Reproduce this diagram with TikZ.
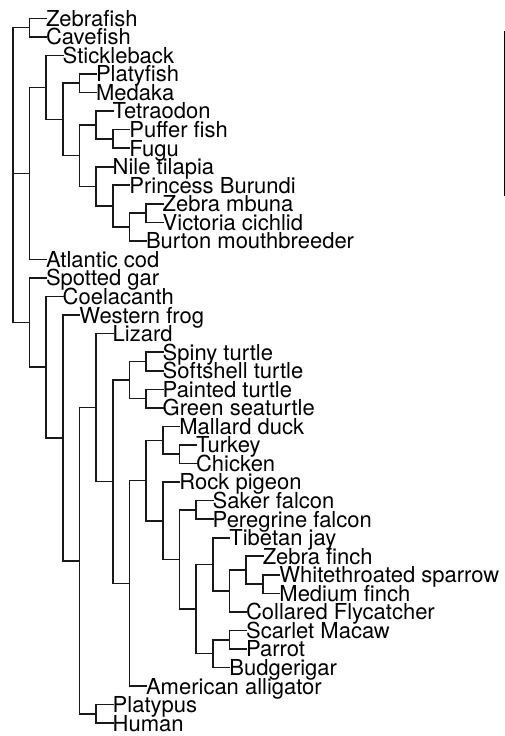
\documentclass[tikz,border=0pt]{standalone}
\usepackage{fontspec}
\setmainfont{TeX Gyre Heros}
\tikzset{
  leaf/.style={anchor=west, inner sep=0pt, outer sep=0pt, text height=15.8pt, text depth=0pt,
    font=\fontsize{22}{22}\selectfont, text=black},
  edge/.style={draw=black!90, line width=1.6pt, line cap=rect},
  scalebar/.style={draw=black, line width=1.2pt}
}
\begin{document}
\begin{tikzpicture}
\path[use as bounding box] (0pt,0pt) rectangle (505pt,-736pt);
\coordinate (bartop) at (504.2pt,-31pt);
\coordinate (barbot) at (504.2pt,-196pt);
\draw[scalebar] (bartop) -- (barbot);
\begin{scope}[shift={(12.7pt,-18.3pt)}, x=16.67pt, y=-18.55pt]
% leaves
\node[leaf] (zebrafish) at (2,0) {Zebrafish};
\node[leaf] (cavefish) at (2,1) {Cavefish};
\node[leaf] (stickleback) at (3,2) {Stickleback};
\node[leaf] (platyfish) at (5,3) {Platyfish};
\node[leaf] (medaka) at (5,4) {Medaka};
\node[leaf] (tetraodon) at (6,5) {Tetraodon};
\node[leaf] (pufferfish) at (7,6) {Puffer fish};
\node[leaf] (fugu) at (7,7) {Fugu};
\node[leaf] (niletilapia) at (6,8) {Nile tilapia};
\node[leaf] (princess) at (7,9) {Princess Burundi};
\node[leaf] (zebrambuna) at (9,10) {Zebra mbuna};
\node[leaf] (victoria) at (9,11) {Victoria cichlid};
\node[leaf] (burton) at (8,12) {Burton mouthbreeder};
\node[leaf] (cod) at (2,13) {Atlantic cod};
\node[leaf] (gar) at (2,14) {Spotted gar};
\node[leaf] (coelacanth) at (3,15) {Coelacanth};
\node[leaf] (frog) at (4,16) {Western frog};
\node[leaf] (lizard) at (6,17) {Lizard};
\node[leaf] (spiny) at (9,18) {Spiny turtle};
\node[leaf] (softshell) at (9,19) {Softshell turtle};
\node[leaf] (painted) at (9,20) {Painted turtle};
\node[leaf] (green) at (9,21) {Green seaturtle};
\node[leaf] (mallard) at (10,22) {Mallard duck};
\node[leaf] (turkey) at (11,23) {Turkey};
\node[leaf] (chicken) at (11,24) {Chicken};
\node[leaf] (pigeon) at (10,25) {Rock pigeon};
\node[leaf] (saker) at (12,26) {Saker falcon};
\node[leaf] (peregrine) at (12,27) {Peregrine falcon};
\node[leaf] (jay) at (13,28) {Tibetan jay};
\node[leaf] (zebrafinch) at (15,29) {Zebra finch};
\node[leaf] (sparrow) at (16,30) {Whitethroated sparrow};
\node[leaf] (mediumfinch) at (16,31) {Medium finch};
\node[leaf] (flycatcher) at (14,32) {Collared Flycatcher};
\node[leaf] (macaw) at (14,33) {Scarlet Macaw};
\node[leaf] (parrot) at (14,34) {Parrot};
\node[leaf] (budgerigar) at (13,35) {Budgerigar};
\node[leaf] (alligator) at (8,36) {American alligator};
\node[leaf] (platypus) at (6,37) {Platypus};
\node[leaf] (human) at (6,38) {Human};
% internal nodes
\coordinate (R) at (0,8.453);
\coordinate (A) at (1,0.5);
\coordinate (B) at (1,8.36328);
\coordinate (C) at (1,16.40561);
\coordinate (D) at (2,3.72656);
\coordinate (E) at (3,5.45313);
\coordinate (F) at (4,3.5);
\coordinate (G) at (4,7.40625);
\coordinate (H) at (5,5.75);
\coordinate (J) at (6,6.5);
\coordinate (I) at (5,9.0625);
\coordinate (K) at (6,10.125);
\coordinate (L) at (7,11.25);
\coordinate (M) at (8,10.5);
\coordinate (N) at (2,18.81122);
\coordinate (O) at (3,22.62244);
\coordinate (P) at (4,29.24487);
\coordinate (Q) at (5,20.98975);
\coordinate (S) at (6,24.97949);
\coordinate (T) at (7,19.5);
\coordinate (V) at (8,18.5);
\coordinate (W) at (8,20.5);
\coordinate (U) at (7,30.45898);
\coordinate (X) at (8,24.91797);
\coordinate (Y) at (9,22.75);
\coordinate (AA) at (10,23.5);
\coordinate (Z) at (9,27.08594);
\coordinate (BB) at (10,29.17188);
\coordinate (CC) at (11,26.5);
\coordinate (DD) at (11,31.84375);
\coordinate (EE) at (12,29.4375);
\coordinate (GG) at (13,30.875);
\coordinate (HH) at (14,29.75);
\coordinate (II) at (15,30.5);
\coordinate (FF) at (12,34.25);
\coordinate (JJ) at (13,33.5);
\coordinate (RR) at (5,37.5);
% edges
\foreach \p/\c in {R/A, R/B, R/C,
  A/zebrafish, A/cavefish,
  B/D, B/cod,
  D/stickleback, D/E,
  E/F, E/G,
  F/platyfish, F/medaka,
  G/H, G/I,
  H/tetraodon, H/J,
  J/pufferfish, J/fugu,
  I/niletilapia, I/K,
  K/princess, K/L,
  L/M, L/burton,
  M/zebrambuna, M/victoria,
  C/gar, C/N,
  N/coelacanth, N/O,
  O/frog, O/P,
  P/Q, P/RR,
  Q/lizard, Q/S,
  S/T, S/U,
  T/V, T/W,
  V/spiny, V/softshell,
  W/painted, W/green,
  U/X, U/alligator,
  X/Y, X/Z,
  Y/mallard, Y/AA,
  AA/turkey, AA/chicken,
  Z/pigeon, Z/BB,
  BB/CC, BB/DD,
  CC/saker, CC/peregrine,
  DD/EE, DD/FF,
  EE/jay, EE/GG,
  GG/HH, GG/flycatcher,
  HH/zebrafinch, HH/II,
  II/sparrow, II/mediumfinch,
  FF/JJ, FF/budgerigar,
  JJ/macaw, JJ/parrot,
  RR/platypus, RR/human}
  \draw[edge] (\p) |- (\c);
\end{scope}
\end{tikzpicture}
\end{document}
